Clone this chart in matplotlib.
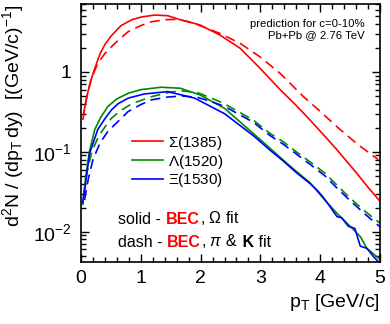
import numpy as np
import matplotlib
matplotlib.use('Agg')
import matplotlib.pyplot as plt
from matplotlib.ticker import LogLocator, MultipleLocator, NullFormatter, FixedLocator

plt.rcParams['font.family'] = ['Liberation Sans', 'DejaVu Sans']
plt.rcParams['mathtext.fontset'] = 'custom'
plt.rcParams['mathtext.rm'] = 'Liberation Sans'
plt.rcParams['mathtext.it'] = 'Liberation Sans:italic'
plt.rcParams['mathtext.bf'] = 'Liberation Sans:bold'

# ---------------- data ----------------
sigma_solid_pt = [0.04, 0.1, 0.15, 0.22, 0.32, 0.4, 0.5, 0.67, 0.85, 1.0, 1.23, 1.45, 1.66,
                  1.99, 2.32, 2.66, 2.95, 3.33, 3.6, 3.83, 4.05, 4.28, 4.45, 4.61, 4.8, 5.0]
sigma_solid_y = [0.29, 0.5, 0.72, 1.05, 1.7, 2.2, 2.8, 3.8, 4.5, 4.85, 5.15, 5.05, 4.5,
                 3.87, 2.9, 1.98, 1.2, 0.6, 0.38, 0.25, 0.165, 0.106, 0.075, 0.054, 0.036, 0.024]

sigma_dash_pt = [0.03, 0.1, 0.18, 0.28, 0.4, 0.51, 0.65, 0.79, 1.0, 1.18, 1.4, 1.62, 1.8,
                 1.93, 2.32, 2.66, 2.99, 3.33, 3.72, 4.0, 4.3, 4.62, 4.97]
sigma_dash_y = [0.25, 0.5, 0.85, 1.28, 1.7, 2.07, 2.6, 3.19, 3.8, 4.25, 4.5, 4.55, 4.25,
                3.95, 3.04, 2.28, 1.55, 0.96, 0.49, 0.32, 0.2, 0.125, 0.08]

lambda_solid_pt = [0.03, 0.08, 0.14, 0.23, 0.33, 0.45, 0.6, 0.79, 1.0, 1.34, 1.66, 1.99, 2.4,
                   2.88, 3.16, 3.38, 3.6, 3.83, 4.05, 4.28, 4.5, 4.67, 4.78, 4.94, 5.0]
lambda_solid_y = [0.022, 0.05, 0.1, 0.19, 0.27, 0.37, 0.46, 0.54, 0.6, 0.643, 0.625, 0.516, 0.35,
                  0.17, 0.111, 0.079, 0.057, 0.041, 0.0263, 0.017, 0.0117, 0.0087, 0.0062, 0.0049, 0.0045]

lambda_dash_pt = [0.05, 0.1, 0.18, 0.3, 0.43, 0.51, 0.67, 0.85, 1.18, 1.5, 1.68, 1.95, 2.18,
                  2.38, 2.88, 3.16, 3.38, 3.6, 3.86, 4.08, 4.3, 4.5, 4.75, 5.0]
lambda_dash_y = [0.03, 0.055, 0.1, 0.16, 0.22, 0.264, 0.33, 0.4, 0.49, 0.56, 0.58, 0.55, 0.47,
                 0.406, 0.25, 0.17, 0.134, 0.1, 0.072, 0.054, 0.037, 0.0263, 0.018, 0.0128]

xi_solid_pt = [0.03, 0.09, 0.145, 0.28, 0.4, 0.51, 0.62, 0.79, 1.06, 1.45, 1.9, 2.4, 2.88,
               3.16, 3.38, 3.6, 3.83, 3.95, 4.05, 4.14, 4.28, 4.36, 4.47, 4.58, 4.67, 4.78, 4.9, 5.0]
xi_solid_y = [0.023, 0.049, 0.096, 0.19, 0.26, 0.335, 0.4, 0.47, 0.53, 0.567, 0.47, 0.30, 0.16,
              0.105, 0.077, 0.055, 0.04, 0.033, 0.027, 0.0218, 0.0155, 0.0149, 0.0117, 0.011,
              0.0066, 0.0062, 0.0048, 0.004]

xi_dash_pt = [0.06, 0.12, 0.2, 0.32, 0.45, 0.56, 0.79, 1.0, 1.18, 1.45, 1.7, 1.95, 2.2,
              2.4, 2.88, 3.16, 3.38, 3.6, 3.86, 4.08, 4.3, 4.5, 4.75, 5.0]
xi_dash_y = [0.025, 0.045, 0.08, 0.13, 0.18, 0.217, 0.32, 0.39, 0.447, 0.485, 0.5, 0.48, 0.42,
             0.37, 0.235, 0.16, 0.125, 0.094, 0.067, 0.05, 0.034, 0.0245, 0.0166, 0.0115]

labels = [r'$\Sigma$(1385)', r'$\Lambda$(1520)', r'$\Xi$(1530)']
colors = ['#ff0000', '#008a00', '#0000ff']
x_ticks = [0, 1, 2, 3, 4, 5]
y_ticks = [0.01, 0.1, 1]
y_ticklabels = [r'$10^{-2}$', r'$10^{-1}$', '1']

# ---------------- figure ----------------
fig = plt.figure(figsize=(3.9, 3.24), dpi=100)
ax = fig.add_axes([81 / 390, 1 - 262 / 324, 299 / 390, 258 / 324])

lw = 1.2
dash = (6, 3.5)
solids = [(sigma_solid_pt, sigma_solid_y), (lambda_solid_pt, lambda_solid_y), (xi_solid_pt, xi_solid_y)]
dashes = [(sigma_dash_pt, sigma_dash_y), (lambda_dash_pt, lambda_dash_y), (xi_dash_pt, xi_dash_y)]
handles = []
for (sx, sy), (dx, dy), c, lab in zip(solids, dashes, colors, labels):
    h, = ax.plot(sx, sy, color=c, lw=lw, label=lab)
    ax.plot(dx, dy, color=c, lw=lw, dashes=dash)
    handles.append(h)

ax.set_yscale('log')
ax.set_xlim(0, 5)
ax.set_ylim(10 ** (-2.379), 10 ** 0.85)

ax.xaxis.set_major_locator(FixedLocator(x_ticks))
ax.xaxis.set_minor_locator(MultipleLocator(0.2))
ax.set_xticklabels([str(t) for t in x_ticks])
ax.yaxis.set_major_locator(FixedLocator(y_ticks))
ax.set_yticklabels(y_ticklabels)
ax.yaxis.set_minor_locator(LogLocator(base=10, subs=np.arange(2, 10)))
ax.yaxis.set_minor_formatter(NullFormatter())

ax.tick_params(which='both', direction='in', top=True, right=True, width=1.0)
ax.tick_params(which='major', length=6)
ax.tick_params(which='minor', length=3.5)
ax.tick_params(axis='x', which='major', labelsize=14, pad=6)
ax.tick_params(axis='y', which='major', labelsize=14, pad=7)
for s in ax.spines.values():
    s.set_linewidth(1.2)

ax.set_ylabel(r'd$^2$N / (dp$_\mathregular{T}\,$dy)  [(GeV/c)$^{-1}$]', fontsize=14, loc='top')
ax.yaxis.set_label_coords(-0.184, 0.996)
ax.set_xlabel(r'p$_\mathregular{T}$ [GeV/c]', fontsize=14, loc='right')
ax.xaxis.set_label_coords(1.0, -0.118)

ax.text(0.95, 0.902, 'prediction for c=0-10%\nPb+Pb @ 2.76 TeV', transform=ax.transAxes,
        ha='right', va='center', multialignment='right', fontsize=8.2, linespacing=1.15)

leg = ax.legend(handles=handles, loc='upper left', bbox_to_anchor=(0.1696, 0.497),
                frameon=False, fontsize=11, handlelength=2.05, handletextpad=0.3,
                borderpad=0, borderaxespad=0, labelspacing=0.05)

# annotation lines with coloured bold parts
def rainbow(x, y, parts):
    t = ax.text(x, y, parts[0][0], transform=ax.transAxes, fontsize=11.5,
                color=parts[0][1], fontweight=parts[0][2], va='bottom')
    for txt, c, w in parts[1:]:
        t = ax.annotate(txt, xycoords=t, xy=(1, 0), va='bottom', fontsize=11.5,
                        color=c, fontweight=w)

rainbow(0.125, 0.135, [('solid - ', 'k', 'normal'), ('BEC', '#ff0000', 'bold'),
                      (r', $\Omega$ fit', 'k', 'normal')])
rainbow(0.125, 0.045, [('dash - ', 'k', 'normal'), ('BEC', '#ff0000', 'bold'),
                      (r', $\pi$ &', 'k', 'normal'), (' K', 'k', 'bold'), (' fit', 'k', 'normal')])

fig.savefig('out.png', dpi=100)
